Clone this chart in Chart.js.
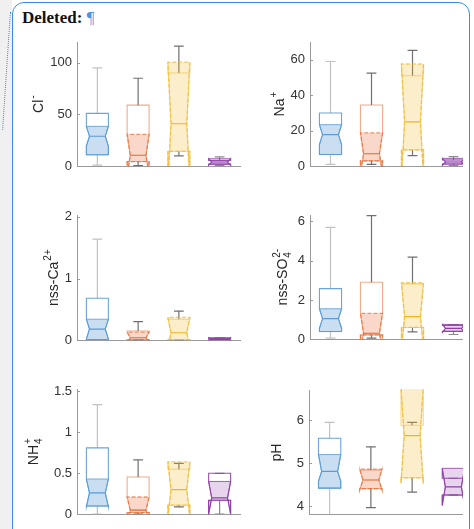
<!DOCTYPE html>
<html>
<head>
<meta charset="utf-8">
<script src="https://cdn.jsdelivr.net/npm/chart.js@4.4.0/dist/chart.umd.min.js"></script>
<style>
    body { margin: 0; width: 474px; height: 529px; overflow: hidden; background: #fff; position: relative; }
    .strip { position: absolute; left: 0; top: 0; width: 12px; height: 529px; background: #f0f0f0; }
    .frame { position: absolute; left: 12px; top: 2px; width: 456px; height: 600px;
             border: 1.5px solid #3a8ee0; border-radius: 12px; background: #fff; }
    .dots { position: absolute; left: 6px; top: 12px; height: 118px; border-left: 1.5px dotted #3a8ee0;
            transform: rotate(3.8deg); }
    .head { position: absolute; left: 22px; top: 8px; font: bold 17px "Liberation Serif", serif; color: #111; }
    .head span { color: #4a97e0; font-weight: normal; }
    .cell { position: absolute; overflow: hidden; }
    canvas { position: absolute; left: 0; top: 0; }
</style>
</head>
<body>
<div class="strip"></div>
<div class="frame"></div>
<div class="dots"></div>
<div class="head">Deleted: <span>¶</span></div>

<div class="cell" style="left:14px;top:20px;width:236px;height:159px"><canvas id="cl" width="236" height="159"></canvas></div>
<div class="cell" style="left:250px;top:20px;width:213px;height:159px"><canvas id="na" width="224" height="159"></canvas></div>
<div class="cell" style="left:14px;top:193px;width:236px;height:160px"><canvas id="ca" width="236" height="160"></canvas></div>
<div class="cell" style="left:250px;top:193px;width:213px;height:159px"><canvas id="so4" width="224" height="159"></canvas></div>
<div class="cell" style="left:14px;top:367px;width:236px;height:160px"><canvas id="nh4" width="236" height="160"></canvas></div>
<div class="cell" style="left:250px;top:368px;width:213px;height:159px"><canvas id="ph" width="224" height="159"></canvas></div>

<script>
    // each row: [whisker low, q1, notch low, median, notch high, q3, whisker high]
    const clBoxes = [
        [1, 11, 19.5, 29, 38.5, 51, 95],
        [0.5, 4.5, -9.6, 10.6, 30.8, 59, 85],
        [10, 14.4, -18.6, 41, 100.6, 90, 116],
        [0.5, 2, 0.8, 4, 7.2, 5.5, 9]
    ]
    const naBoxes = [
        [1, 6.6, 12.2, 17.8, 23.4, 30, 59],
        [1, 3, -4.8, 7, 18.8, 34.5, 52.5],
        [6, 9.2, -7.6, 25, 57.6, 51, 65.3],
        [0.3, 1.2, 0.4, 2.4, 4.4, 3.5, 5.4]
    ]
    const caBoxes = [
        [0, 0.01, 0.02, 0.18, 0.34, 0.68, 1.64],
        [0, 0.01, -0.05, 0.04, 0.13, 0.15, 0.30],
        [0, 0.01, -0.13, 0.12, 0.37, 0.34, 0.47],
        [0, 0.005, -0.01, 0.015, 0.04, 0.03, 0.04]
    ]
    const so4Boxes = [
        [0.05, 0.39, 0.55, 1.05, 1.55, 2.58, 5.7],
        [0.05, 0.22, -0.72, 0.3, 1.32, 2.9, 6.3],
        [0.37, 0.6, -0.58, 1.15, 2.88, 2.82, 4.18],
        [0.24, 0.4, 0.35, 0.55, 0.75, 0.7, 0.75]
    ]
    const nh4Boxes = [
        [0, 0.1, 0.09, 0.26, 0.43, 0.81, 1.34],
        [0, 0.02, -0.11, 0.05, 0.21, 0.455, 0.665],
        [0.09, 0.11, -0.04, 0.30, 0.64, 0.55, 0.62],
        [0, 0.17, 0.0, 0.2, 0.4, 0.5, 0.5]
    ]
    const phBoxes = [
        [3.7, 4.42, 4.58, 4.81, 5.2, 5.58, 5.95],
        [3.97, 4.41, 4.38, 4.61, 4.86, 4.84, 5.38],
        [4.33, 4.66, 4.53, 5.64, 6.75, 5.88, 5.95],
        [4.26, 4.26, 4.02, 4.45, 4.88, 4.65, 4.65]
    ]

    const clTicks = [0, 50, 100]
    const naTicks = [0, 20, 40, 60]
    const caTicks = [0, 1, 2]
    const so4Ticks = [0, 2, 4, 6]
    const nh4Ticks = [0, 0.5, 1, 1.5]
    const phTicks = [4, 5, 6]

    const groups = ['', '', '', '']

    const lineColors = ['#5b9bd5', '#e2682f', '#f0b622', '#8e3ea8']
    const fillColors = ['rgba(91,155,213,0.33)', 'rgba(232,110,60,0.28)', 'rgba(242,190,50,0.26)', 'rgba(142,62,168,0.22)']
    const whiskerColors = ['#c2c2c2', '#707070', '#707070', '#8a8a8a']
    const dashed = [false, true, true, false]

    const FONT = '"Liberation Sans", Arial, sans-serif'

    const notchBox = {
        id: 'notchBox',
        afterDatasetsDraw(chart, args, opts) {
            const ctx = chart.ctx
            const a = chart.chartArea
            const x = chart.scales.x, y = chart.scales.y
            const step = x.getPixelForValue(1) - x.getPixelForValue(0)
            ctx.save()
            ctx.beginPath()
            ctx.rect(a.left, a.top - 1, a.right - a.left, a.bottom - a.top + 1)
            ctx.clip()
            opts.boxes.forEach((b, i) => {
                const [lo, q1, nlo, med, nhi, q3, hi] = b.map(v => y.getPixelForValue(v))
                const cx = x.getPixelForValue(i)
                const hw = step * 0.27
                const d = hw * 2 * 0.14
                const cw = step * 0.12
                const x1 = cx - hw, x2 = cx + hw

                // whiskers
                ctx.strokeStyle = whiskerColors[i]
                ctx.lineWidth = 1.2
                ctx.setLineDash([])
                ctx.beginPath()
                ctx.moveTo(cx, q3); ctx.lineTo(cx, hi)
                ctx.moveTo(cx - cw, hi); ctx.lineTo(cx + cw, hi)
                ctx.moveTo(cx, q1); ctx.lineTo(cx, lo)
                ctx.moveTo(cx - cw, lo); ctx.lineTo(cx + cw, lo)
                ctx.stroke()

                // shaded notch patch
                const fillPts = [[x1, q1], [x1, nlo], [x1 + d, med], [x1, nhi], [x2, nhi], [x2 - d, med], [x2, nlo], [x2, q1]]
                ctx.beginPath()
                fillPts.forEach((p, k) => k ? ctx.lineTo(p[0], p[1]) : ctx.moveTo(p[0], p[1]))
                ctx.closePath()
                ctx.fillStyle = fillColors[i]
                ctx.fill()
                ctx.strokeStyle = lineColors[i]
                ctx.globalAlpha = dashed[i] ? 0.65 : 0.8
                ctx.lineWidth = dashed[i] ? 1.3 : 1
                ctx.setLineDash(dashed[i] ? [4, 2] : [])
                ctx.stroke()
                ctx.globalAlpha = 1
                ctx.setLineDash([])

                // notched box outline
                const boxPts = [[x1, q1], [x1, nlo], [x1 + d, med], [x1, nhi], [x1, q3], [x2, q3], [x2, nhi], [x2 - d, med], [x2, nlo], [x2, q1]]
                ctx.beginPath()
                boxPts.forEach((p, k) => k ? ctx.lineTo(p[0], p[1]) : ctx.moveTo(p[0], p[1]))
                ctx.closePath()
                ctx.lineWidth = 1.1
                ctx.strokeStyle = lineColors[i]
                ctx.globalAlpha = dashed[i] ? 0.55 : 0.9
                ctx.stroke()
                ctx.globalAlpha = 1

                // median
                ctx.beginPath()
                ctx.moveTo(x1 + d, med); ctx.lineTo(x2 - d, med)
                ctx.stroke()
            })
            ctx.restore()
        },
        afterDraw(chart, args, opts) {
            const ctx = chart.ctx
            const a = chart.chartArea
            const y = chart.scales.y
            // inward tick marks
            ctx.save()
            ctx.strokeStyle = '#9a9a9a'
            ctx.lineWidth = 1
            ctx.beginPath()
            y.ticks.forEach(t => {
                const py = Math.round(y.getPixelForValue(t.value)) + 0.5
                ctx.moveTo(a.left, py); ctx.lineTo(a.left + 3, py)
            })
            ctx.stroke()

            // y title, rotated, with tex-like sub/superscripts
            const t = opts.title
            ctx.fillStyle = '#262626'
            ctx.textBaseline = 'alphabetic'
            ctx.font = '14px ' + FONT
            const mainW = ctx.measureText(t.main).width
            ctx.font = '10px ' + FONT
            const subW = t.sub ? ctx.measureText(t.sub).width : 0
            const supW = t.sup ? ctx.measureText(t.sup).width : 0
            const total = mainW + Math.max(subW, supW) + 1
            ctx.translate(a.left - opts.titleGap, (a.top + a.bottom) / 2)
            ctx.rotate(-Math.PI / 2)
            let sx = -total / 2
            ctx.font = '14px ' + FONT
            ctx.fillText(t.main, sx, 0)
            sx += mainW + 1
            ctx.font = '10px ' + FONT
            if (t.sup) ctx.fillText(t.sup, sx, -7)
            if (t.sub) ctx.fillText(t.sub, sx, 4)
            ctx.restore()
        }
    }

    function makeChart(id, boxes, ticks, min, max, axisW, padRight, title, titleGap) {
        return new Chart(document.getElementById(id), {
            type: 'bar',
            data: {
                labels: groups,
                datasets: [{
                    data: boxes.map(b => [b[1], b[5]]),
                    backgroundColor: 'rgba(0,0,0,0)',
                    borderWidth: 0
                }]
            },
            options: {
                responsive: false,
                animation: false,
                events: [],
                layout: { padding: { top: 22, bottom: 12, left: 0, right: padRight } },
                plugins: {
                    legend: { display: false },
                    tooltip: { enabled: false },
                    notchBox: { boxes: boxes, title: title, titleGap: titleGap }
                },
                scales: {
                    x: {
                        grid: { display: false, drawTicks: false },
                        border: { display: true, color: '#9a9a9a', width: 1 },
                        ticks: { display: false },
                        afterFit(s) { s.height = 0 }
                    },
                    y: {
                        min: min,
                        max: max,
                        grid: { display: false, drawTicks: false },
                        border: { display: true, color: '#9a9a9a', width: 1 },
                        ticks: {
                            color: '#333',
                            font: { size: 13, family: FONT },
                            padding: 5,
                            callback: v => String(v)
                        },
                        afterBuildTicks(s) { s.ticks = ticks.map(v => ({ value: v })) },
                        afterFit(s) { s.width = axisW }
                    }
                }
            },
            plugins: [notchBox]
        })
    }

    makeChart('cl', clBoxes, clTicks, 0, 120, 63, 10, { main: 'Cl', sup: '-' }, 34)
    makeChart('na', naBoxes, naTicks, 0, 70, 60, 0, { main: 'Na', sup: '+' }, 26)
    makeChart('ca', caBoxes, caTicks, 0, 2.03, 63, 10, { main: 'nss-Ca', sup: '2+' }, 19)
    makeChart('so4', so4Boxes, so4Ticks, 0, 6.33, 60, 0, { main: 'nss-SO', sub: '4', sup: '2-' }, 23)
    makeChart('nh4', nh4Boxes, nh4Ticks, 0, 1.53, 63, 10, { main: 'NH', sub: '4', sup: '+' }, 39)
    makeChart('ph', phBoxes, phTicks, 3.815, 6.70, 59, 0, { main: 'pH' }, 28)
</script>
</body>
</html>
